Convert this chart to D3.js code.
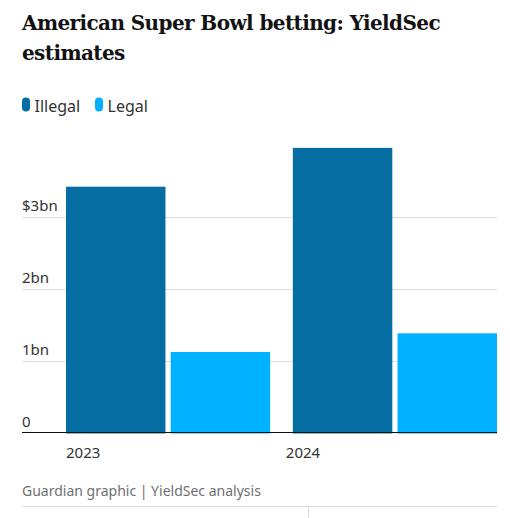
<!DOCTYPE html>
<html>
<head>
<meta charset="utf-8">
<title>American Super Bowl betting</title>
<script src="https://cdn.jsdelivr.net/npm/d3@7"></script>
<style>
body { margin: 0; background: #fff; }
svg { display: block; }
</style>
</head>
<body>
<script>

// data
var years = ["2023", "2024"];
var seriesNames = ["Illegal", "Legal"];
var illegal = [3.42, 3.96];
var legal = [1.12, 1.38];
var yTicks = [0, 1, 2, 3];
var tickLabels = ["0", "1bn", "2bn", "$3bn"];

var colors = {Illegal: "#056da1", Legal: "#00b2ff"};

var W = 510, H = 518;
var margin = {top: 145, right: 13, bottom: 85.5, left: 22};

var svg = d3.select("body").append("svg")
  .attr("width", W)
  .attr("height", H);

// title
var title = svg.append("text")
  .attr("x", 22)
  .style("font-family", "'DejaVu Serif', serif")
  .style("font-weight", "bold")
  .style("font-size", "20px")
  .style("letter-spacing", "-0.6px")
  .style("fill", "#121212");
title.append("tspan").attr("x", 22).attr("y", 30).text("American Super Bowl betting: YieldSec");
title.append("tspan").attr("x", 22).attr("y", 60).text("estimates");

// legend
var legend = svg.append("g");
var lx = [22, 95];
seriesNames.forEach(function(s, i) {
  legend.append("rect")
    .attr("x", lx[i]).attr("y", 97.5)
    .attr("width", 8).attr("height", 14)
    .attr("rx", 4)
    .style("fill", colors[s]);
  legend.append("text")
    .attr("x", lx[i] + 12.5).attr("y", 112)
    .style("font-family", "'Noto Sans', sans-serif")
    .style("font-size", "16px")
    .style("fill", "#333")
    .text(s);
});

// scales
var y = d3.scaleLinear()
  .domain([0, 4])
  .range([H - margin.bottom, margin.top]);

var x0 = d3.scaleBand()
  .domain(years)
  .range([66, W - margin.right])
  .paddingInner(0.1);

var x1 = d3.scaleBand()
  .domain(seriesNames)
  .range([0, x0.bandwidth()])
  .paddingInner(0.05);

// gridlines + tick labels
var grid = svg.append("g");
grid.selectAll("line")
  .data(yTicks.filter(function(d) { return d > 0; }))
  .enter().append("line")
  .attr("x1", margin.left).attr("x2", W - margin.right)
  .attr("y1", function(d) { return Math.round(y(d)) + 0.5; })
  .attr("y2", function(d) { return Math.round(y(d)) + 0.5; })
  .style("stroke", "#dcdcdc")
  .style("stroke-width", 1);

grid.selectAll("text")
  .data(yTicks)
  .enter().append("text")
  .attr("x", margin.left)
  .attr("y", function(d) { return y(d) - 6; })
  .style("font-family", "'Noto Sans', sans-serif")
  .style("font-size", "15px")
  .style("fill", "#333")
  .text(function(d, i) { return tickLabels[i]; });

// bars
var rows = years.map(function(yr, i) {
  return {year: yr, values: [
    {key: "Illegal", val: illegal[i]},
    {key: "Legal", val: legal[i]}
  ]};
});

svg.append("g")
  .selectAll("g")
  .data(rows)
  .enter().append("g")
  .attr("transform", function(d) { return "translate(" + x0(d.year) + ",0)"; })
  .selectAll("rect")
  .data(function(d) { return d.values; })
  .enter().append("rect")
  .attr("x", function(d) { return x1(d.key); })
  .attr("y", function(d) { return y(d.val); })
  .attr("width", x1.bandwidth())
  .attr("height", function(d) { return y(0) - y(d.val) + 1; })
  .style("fill", function(d) { return colors[d.key]; });

// zero line
svg.append("line")
  .attr("x1", margin.left).attr("x2", W - margin.right)
  .attr("y1", y(0)).attr("y2", y(0))
  .style("stroke", "#121212")
  .style("stroke-width", 1);

// x labels
svg.append("g")
  .selectAll("text")
  .data(years)
  .enter().append("text")
  .attr("x", function(d, i) { return x0(d) - i * 7; })
  .attr("y", 458)
  .style("font-family", "'Noto Sans', sans-serif")
  .style("font-size", "15px")
  .style("fill", "#333")
  .text(function(d) { return d; });

// footer
svg.append("text")
  .attr("x", 22).attr("y", 496)
  .style("font-family", "'Noto Sans', sans-serif")
  .style("font-size", "14px")
  .style("fill", "#707070")
  .text("Guardian graphic | YieldSec analysis");

svg.append("line")
  .attr("x1", 22).attr("x2", W - margin.right)
  .attr("y1", 506.5).attr("y2", 506.5)
  .style("stroke", "#dcdcdc");
svg.append("line")
  .attr("x1", 308.5).attr("x2", 308.5)
  .attr("y1", 506.5).attr("y2", H)
  .style("stroke", "#dcdcdc");

</script>
</body>
</html>
